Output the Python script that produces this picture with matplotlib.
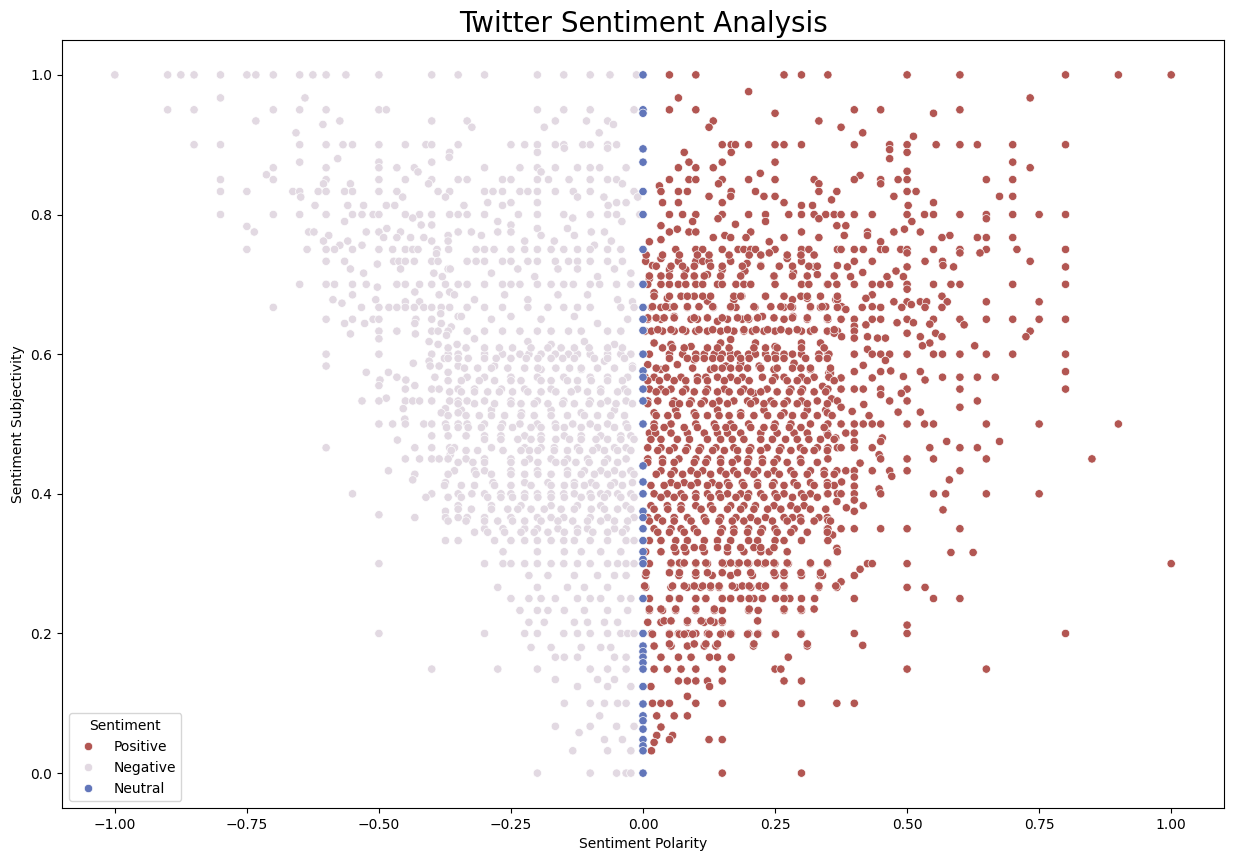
import matplotlib
matplotlib.use("Agg")
import matplotlib.pyplot as plt
import seaborn as sns
import pandas as pd

# subjectivity level -> polarity values
pos_rows = [
    (1.0, [0.05, 0.1, 0.267, 0.3, 0.35, 0.5, 0.6, 0.8, 0.9, 1.0]),
    (0.976, [0.2]),
    (0.967, [0.067, 0.733]),
    (0.95, [0.05, 0.1, 0.4, 0.45, 0.6]),
    (0.945, [0.25, 0.55]),
    (0.934, [0.133, 0.333]),
    (0.925, [0.125, 0.375]),
    (0.917, [0.416]),
    (0.912, [0.512]),
    (0.9, [0.15, 0.167, 0.175, 0.2, 0.25, 0.267, 0.3, 0.4, 0.467, 0.5, 0.555, 0.6, 0.633, 0.7, 0.8]),
    (0.893, [0.467]),
    (0.889, [0.078, 0.167, 0.5]),
    (0.88, [0.467]),
    (0.875, [0.087, 0.15, 0.25, 0.7]),
    (0.867, [0.067, 0.1, 0.133, 0.733]),
    (0.862, [0.5]),
    (0.859, [0.222]),
    (0.856, [0.411]),
    (0.85, [0.05, 0.087, 0.1, 0.15, 0.2, 0.25, 0.324, 0.4, 0.45, 0.483, 0.5, 0.65, 0.7]),
    (0.844, [0.143, 0.333, 0.45]),
    (0.841, [0.031]),
    (0.833, [0.034, 0.067, 0.084, 0.167, 0.213, 0.333, 0.367, 0.5, 0.517]),
    (0.826, [0.125, 0.166, 0.229, 0.25, 0.475, 0.675, 0.7]),
    (0.821, [0.357]),
    (0.817, [0.037, 0.067, 0.15, 0.267, 0.55]),
    (0.813, [0.3, 0.321, 0.502]),
    (0.8, [0.05, 0.075, 0.1, 0.15, 0.2, 0.232, 0.276, 0.3, 0.324, 0.346, 0.362, 0.375, 0.4, 0.434,
           0.5, 0.533, 0.55, 0.6, 0.65, 0.7, 0.75, 0.8]),
    (0.794, [0.142, 0.333, 0.65]),
    (0.79, [0.094, 0.232, 0.509]),
    (0.786, [0.175]),
    (0.784, [0.034, 0.367, 0.384]),
    (0.779, [0.065, 0.495]),
    (0.775, [0.05, 0.087, 0.1, 0.204, 0.3, 0.425, 0.475, 0.525]),
    (0.77, [0.155, 0.381, 0.425, 0.581]),
    (0.767, [0.133, 0.166, 0.195, 0.267, 0.333, 0.566, 0.633, 0.65, 0.7]),
    (0.764, [0.034]),
    (0.761, [0.012, 0.239, 0.45]),
    (0.75, [0.062, 0.1, 0.113, 0.15, 0.18, 0.191, 0.204, 0.213, 0.25, 0.3, 0.314, 0.368, 0.375, 0.4,
            0.417, 0.45, 0.459, 0.488, 0.5, 0.55, 0.6, 0.65, 0.708, 0.8]),
    (0.745, [0.239, 0.5, 0.6, 0.638]),
    (0.737, [0.034, 0.273]),
    (0.733, [0.005, 0.067, 0.1, 0.113, 0.125, 0.166, 0.3, 0.4, 0.434, 0.534, 0.567, 0.733]),
    (0.73, [0.197]),
    (0.727, [0.018, 0.223, 0.368, 0.568]),
    (0.725, [0.324, 0.387, 0.5, 0.588, 0.8]),
    (0.721, [0.05, 0.081, 0.15]),
    (0.719, [0.193, 0.479]),
    (0.717, [0.285, 0.416]),
    (0.714, [0.122, 0.33]),
    (0.711, [0.097, 0.248, 0.393, 0.462, 0.493]),
    (0.708, [0.012]),
    (0.7, [0.009, 0.034, 0.05, 0.067, 0.081, 0.1, 0.113, 0.141, 0.15, 0.176, 0.191, 0.204, 0.25, 0.3,
           0.314, 0.349, 0.35, 0.367, 0.4, 0.434, 0.45, 0.467, 0.5, 0.55, 0.583, 0.6, 0.7, 0.8]),
    (0.693, [0.5]),
    (0.688, [0.021]),
    (0.685, [0.434]),
    (0.683, [0.072, 0.097, 0.187, 0.232, 0.566]),
    (0.68, [0.046, 0.311, 0.422]),
    (0.678, [0.172, 0.283, 0.365, 0.368]),
    (0.676, [0.122]),
    (0.675, [0.475, 0.5, 0.525, 0.537, 0.576, 0.65, 0.75]),
    (0.671, [0.508]),
    (0.668, [0.346, 0.376, 0.434]),
    (0.667, [0.016, 0.034, 0.05, 0.084, 0.133, 0.166, 0.176, 0.212, 0.267, 0.283, 0.317, 0.336, 0.368,
             0.415, 0.45, 0.49, 0.534, 0.566]),
    (0.664, [0.384]),
    (0.654, [0.059, 0.226, 0.284]),
    (0.65, [0.009, 0.034, 0.091, 0.103, 0.16, 0.188, 0.2, 0.267, 0.311, 0.349, 0.35, 0.375, 0.4, 0.434,
            0.45, 0.5, 0.55, 0.6, 0.65, 0.7, 0.75, 0.8]),
    (0.647, [0.141]),
    (0.645, [0.481, 0.512]),
    (0.643, [0.543]),
    (0.642, [0.422, 0.608]),
    (0.64, [0.4]),
    (0.633, [0.004, 0.016, 0.037, 0.059, 0.081, 0.1, 0.122, 0.147, 0.172, 0.191, 0.207, 0.229, 0.25,
             0.276, 0.3, 0.317, 0.349, 0.368, 0.4, 0.733]),
    (0.63, [0.362, 0.5, 0.554]),
    (0.625, [0.376, 0.425, 0.525, 0.566, 0.725]),
    (0.623, [0.4, 0.444, 0.459]),
    (0.621, [0.166]),
    (0.616, [0.021, 0.147, 0.213, 0.3, 0.336, 0.543]),
    (0.614, [0.053]),
    (0.612, [0.529, 0.628]),
    (0.611, [0.091, 0.25]),
    (0.607, [0.425]),
    (0.6, [0.012, 0.05, 0.075, 0.1, 0.116, 0.135, 0.15, 0.166, 0.179, 0.2, 0.213, 0.232, 0.25, 0.267,
           0.283, 0.3, 0.333, 0.35, 0.352, 0.4, 0.434, 0.45, 0.467, 0.5, 0.55, 0.567, 0.6, 0.65, 0.7, 0.8]),
    (0.592, [0.097]),
    (0.591, [0.459]),
    (0.587, [0.185, 0.286]),
    (0.585, [0.009, 0.065]),
    (0.584, [0.417]),
    (0.583, [0.157, 0.22]),
    (0.578, [0.034, 0.128, 0.248, 0.317]),
    (0.576, [0.469]),
    (0.575, [0.4, 0.45, 0.525, 0.8]),
    (0.573, [0.352, 0.355]),
    (0.568, [0.493]),
    (0.567, [0.004, 0.021, 0.046, 0.072, 0.103, 0.119, 0.141, 0.166, 0.188, 0.226, 0.25, 0.267, 0.3,
             0.324, 0.352, 0.567, 0.6, 0.633, 0.667]),
    (0.566, [0.375, 0.434]),
    (0.563, [0.534]),
    (0.554, [0.34]),
    (0.55, [0.012, 0.034, 0.053, 0.081, 0.122, 0.154, 0.191, 0.235, 0.28, 0.302, 0.35, 0.375, 0.4,
            0.417, 0.45, 0.5, 0.6, 0.8]),
    (0.544, [0.21, 0.489]),
    (0.542, [0.45]),
    (0.536, [0.357]),
    (0.533, [0.009, 0.028, 0.059, 0.091, 0.116, 0.144, 0.172, 0.198, 0.213, 0.242, 0.273, 0.3, 0.33,
             0.368, 0.467, 0.5, 0.633]),
    (0.528, [0.418]),
    (0.524, [0.375, 0.6]),
    (0.52, [0.062, 0.141, 0.229, 0.311, 0.346]),
    (0.518, [0.396]),
    (0.517, [0.483, 0.525]),
    (0.516, [0.021, 0.097, 0.185, 0.267, 0.349]),
    (0.512, [0.428]),
    (0.5, [0.021, 0.053, 0.1, 0.135, 0.166, 0.2, 0.25, 0.28, 0.317, 0.35, 0.375, 0.4, 0.417, 0.434,
           0.45, 0.5, 0.533, 0.55, 0.65, 0.75, 0.9]),
    (0.487, [0.012, 0.024, 0.053, 0.084, 0.116, 0.141, 0.16, 0.185, 0.223, 0.254, 0.286, 0.311, 0.349,
             0.384, 0.4]),
    (0.484, [0.35]),
    (0.48, [0.365, 0.453]),
    (0.475, [0.4, 0.45, 0.575, 0.675]),
    (0.466, [0.009, 0.034, 0.059, 0.084, 0.109, 0.138, 0.172, 0.204, 0.235, 0.261, 0.298, 0.33, 0.35,
             0.368, 0.375, 0.4, 0.434, 0.543, 0.6, 0.633]),
    (0.456, [0.447]),
    (0.45, [0.009, 0.037, 0.068, 0.1, 0.122, 0.147, 0.179, 0.2, 0.226, 0.254, 0.298, 0.35, 0.45, 0.5,
            0.55, 0.65, 0.85]),
    (0.444, [0.411]),
    (0.433, [0.034, 0.059, 0.091, 0.113, 0.147, 0.172, 0.198, 0.217, 0.248, 0.28, 0.317, 0.343, 0.367,
             0.384, 0.4, 0.434, 0.467, 0.5, 0.6]),
    (0.425, [0.471]),
    (0.424, [0.4]),
    (0.42, [0.58]),
    (0.417, [0.376]),
    (0.416, [0.053, 0.078, 0.103, 0.131, 0.16, 0.188, 0.217, 0.248, 0.286, 0.317, 0.349]),
    (0.412, [0.362]),
    (0.411, [0.4]),
    (0.407, [0.447]),
    (0.4, [0.021, 0.046, 0.072, 0.1, 0.122, 0.144, 0.16, 0.185, 0.2, 0.223, 0.25, 0.267, 0.3, 0.317,
           0.349, 0.35, 0.368, 0.375, 0.4, 0.45, 0.55, 0.573, 0.65, 0.75]),
    (0.391, [0.4]),
    (0.389, [0.367]),
    (0.383, [0.015, 0.046, 0.072, 0.1, 0.128, 0.166, 0.191, 0.213, 0.248, 0.28, 0.305, 0.417]),
    (0.38, [0.385]),
    (0.377, [0.568]),
    (0.375, [0.4]),
    (0.366, [0.009, 0.028, 0.059, 0.084, 0.116, 0.147, 0.176, 0.204, 0.232, 0.267, 0.283, 0.298, 0.333,
             0.349]),
    (0.362, [0.35]),
    (0.35, [0.021, 0.053, 0.072, 0.097, 0.15, 0.172, 0.2, 0.226, 0.25, 0.286, 0.349, 0.35, 0.375, 0.4,
            0.45, 0.5, 0.6]),
    (0.341, [0.359]),
    (0.333, [0.012, 0.034, 0.062, 0.084, 0.116, 0.141, 0.166, 0.2, 0.217, 0.25, 0.267, 0.3, 0.35]),
    (0.322, [0.367]),
    (0.317, [0.005, 0.034, 0.062, 0.081, 0.116, 0.16, 0.191, 0.223, 0.239, 0.273, 0.368]),
    (0.316, [0.583, 0.625]),
    (0.3, [0.012, 0.053, 0.072, 0.1, 0.122, 0.154, 0.179, 0.2, 0.229, 0.25, 0.275, 0.317, 0.35, 0.425,
           0.434, 0.5, 1.0]),
    (0.292, [0.411]),
    (0.283, [0.005, 0.068, 0.1, 0.131, 0.166, 0.207, 0.25, 0.267, 0.3, 0.336, 0.34, 0.4]),
    (0.274, [0.375]),
    (0.266, [0.005, 0.053, 0.084, 0.109, 0.128, 0.144, 0.176, 0.204, 0.226, 0.267, 0.333, 0.367, 0.5,
             0.534]),
    (0.25, [0.012, 0.05, 0.068, 0.1, 0.119, 0.15, 0.166, 0.185, 0.21, 0.226, 0.278, 0.3, 0.325, 0.4,
            0.55, 0.6]),
    (0.233, [0.012, 0.037, 0.062, 0.1, 0.135, 0.15, 0.2, 0.218, 0.267, 0.3]),
    (0.216, [0.009, 0.034, 0.084, 0.116, 0.135, 0.15]),
    (0.212, [0.5]),
    (0.2, [0.016, 0.05, 0.067, 0.084, 0.1, 0.122, 0.15, 0.167, 0.2, 0.218, 0.25, 0.3, 0.4, 0.5, 0.8]),
    (0.183, [0.416]),
    (0.182, [0.021, 0.053, 0.084, 0.116, 0.138, 0.209, 0.311]),
    (0.166, [0.034, 0.067, 0.091, 0.126, 0.141, 0.167, 0.275]),
    (0.149, [0.021, 0.046, 0.072, 0.1, 0.15, 0.25, 0.261, 0.5, 0.65]),
    (0.132, [0.067, 0.084, 0.1, 0.122, 0.15, 0.267, 0.3]),
    (0.124, [0.015, 0.126]),
    (0.11, [0.084]),
    (0.1, [0.018, 0.034, 0.05, 0.1, 0.15, 0.3, 0.367, 0.4]),
    (0.082, [0.026, 0.059, 0.084]),
    (0.066, [0.034]),
    (0.054, [0.026, 0.056]),
    (0.048, [0.05, 0.125, 0.15]),
    (0.044, [0.021]),
    (0.032, [0.016]),
    (0.0, [0.15, 0.3]),
]

# extra points in the crowded middle of the positive cloud
pos_core_rows = [
    (0.742, [0.006, 0.037, 0.069, 0.103, 0.125, 0.163, 0.201, 0.223, 0.273, 0.299, 0.324]),
    (0.726, [0.025, 0.053, 0.075, 0.097, 0.128, 0.15, 0.188, 0.223, 0.258, 0.283, 0.314, 0.33]),
    (0.712, [0.012, 0.034, 0.05, 0.078, 0.097, 0.116, 0.147, 0.185, 0.248, 0.283, 0.311, 0.362]),
    (0.683, [0.021, 0.05, 0.084, 0.113, 0.128, 0.172, 0.185, 0.232, 0.267, 0.299, 0.311, 0.336, 0.368]),
    (0.668, [0.018, 0.043, 0.059, 0.084, 0.106, 0.132, 0.166, 0.21, 0.242, 0.261, 0.28, 0.317, 0.339]),
    (0.652, [0.009, 0.025, 0.04, 0.059, 0.097, 0.122, 0.15, 0.179, 0.198, 0.217, 0.248, 0.283, 0.311,
             0.349]),
    (0.635, [0.028, 0.053, 0.075, 0.106, 0.132, 0.16, 0.191, 0.214, 0.236, 0.261, 0.292, 0.324, 0.362]),
    (0.609, [0.037, 0.056, 0.078, 0.122, 0.141, 0.163, 0.21, 0.232, 0.254, 0.3, 0.343]),
    (0.594, [0.05, 0.084, 0.1, 0.116, 0.132, 0.147, 0.166, 0.185, 0.201, 0.236, 0.251, 0.267, 0.308,
             0.333, 0.349]),
    (0.58, [0.025, 0.043, 0.094, 0.135, 0.15, 0.166, 0.182, 0.198, 0.223, 0.254, 0.283, 0.299, 0.317,
            0.355]),
    (0.562, [0.009, 0.031, 0.059, 0.081, 0.103, 0.122, 0.154, 0.179, 0.201, 0.245, 0.273, 0.292, 0.311,
             0.362]),
    (0.546, [0.025, 0.043, 0.075, 0.097, 0.119, 0.141, 0.163, 0.185, 0.204, 0.223, 0.254, 0.277, 0.299,
             0.324, 0.346]),
    (0.529, [0.009, 0.056, 0.069, 0.088, 0.11, 0.132, 0.16, 0.204, 0.229, 0.248, 0.267, 0.292, 0.311,
             0.349]),
    (0.512, [0.025, 0.047, 0.065, 0.1, 0.122, 0.144, 0.163, 0.185, 0.21, 0.236, 0.261, 0.283, 0.305,
             0.33, 0.358]),
    (0.495, [0.021, 0.04, 0.078, 0.103, 0.138, 0.157, 0.172, 0.204, 0.229, 0.248, 0.277, 0.299, 0.343]),
    (0.478, [0.015, 0.034, 0.065, 0.088, 0.122, 0.147, 0.169, 0.191, 0.223, 0.245, 0.27, 0.292, 0.314,
             0.336, 0.362]),
    (0.462, [0.028, 0.05, 0.081, 0.106, 0.132, 0.154, 0.179, 0.201, 0.223, 0.258, 0.28, 0.305, 0.324,
             0.349]),
    (0.445, [0.009, 0.037, 0.059, 0.097, 0.119, 0.147, 0.169, 0.198, 0.226, 0.248, 0.273, 0.299, 0.33]),
    (0.428, [0.025, 0.053, 0.075, 0.103, 0.128, 0.157, 0.179, 0.21, 0.236, 0.258, 0.286, 0.311, 0.343,
             0.362]),
    (0.412, [0.015, 0.04, 0.065, 0.091, 0.122, 0.144, 0.163, 0.191, 0.217, 0.245, 0.267, 0.292, 0.324,
             0.349]),
    (0.395, [0.034, 0.059, 0.078, 0.1, 0.128, 0.147, 0.176, 0.198, 0.229, 0.254, 0.283, 0.305, 0.33]),
    (0.378, [0.021, 0.047, 0.072, 0.11, 0.132, 0.16, 0.185, 0.21, 0.236, 0.261, 0.292, 0.317, 0.346]),
    (0.361, [0.012, 0.037, 0.059, 0.091, 0.119, 0.144, 0.169, 0.191, 0.217, 0.245, 0.273, 0.299, 0.324,
             0.355]),
    (0.345, [0.028, 0.05, 0.078, 0.103, 0.147, 0.172, 0.198, 0.223, 0.254, 0.28, 0.311, 0.349]),
    (0.323, [0.059, 0.078, 0.097, 0.113, 0.141, 0.16, 0.185, 0.21, 0.223, 0.248]),
    (0.301, [0.053, 0.069, 0.078, 0.1, 0.119, 0.15, 0.166, 0.182, 0.198, 0.217, 0.232, 0.248, 0.273,
             0.317, 0.349]),
    (0.287, [0.006, 0.05, 0.069, 0.1, 0.122, 0.15, 0.179, 0.204, 0.248, 0.267, 0.299, 0.336]),
    (0.268, [0.003, 0.056, 0.078, 0.097, 0.113, 0.128, 0.144, 0.169, 0.188, 0.201, 0.22, 0.232, 0.267,
             0.333, 0.365]),
    (0.25, [0.05, 0.069, 0.1, 0.119, 0.15, 0.166, 0.185, 0.201, 0.226, 0.251, 0.267]),
    (0.235, [0.012, 0.034, 0.062, 0.1, 0.135, 0.201, 0.267, 0.299, 0.324]),
    (0.218, [0.04, 0.053, 0.084, 0.11, 0.128, 0.15, 0.217]),
    (0.199, [0.018, 0.05, 0.069, 0.078, 0.094, 0.125, 0.147, 0.166, 0.198, 0.217, 0.251, 0.299]),
    (0.185, [0.05, 0.097, 0.119, 0.141, 0.21, 0.311]),
]

neg_rows = [
    (1.0, [-1.0, -0.9, -0.875, -0.85, -0.8, -0.75, -0.733, -0.7, -0.65, -0.625, -0.6, -0.5625, -0.5,
           -0.4, -0.35, -0.3, -0.2, -0.15, -0.1, -0.0625, -0.0125]),
    (0.967, [-0.8, -0.64]),
    (0.95, [-0.9, -0.85, -0.7, -0.65, -0.6, -0.5, -0.486, -0.2, -0.15, -0.1, -0.017]),
    (0.934, [-0.733, -0.574, -0.4, -0.333, -0.166, -0.107, -0.067]),
    (0.929, [-0.606, -0.056]),
    (0.925, [-0.324, -0.187]),
    (0.917, [-0.657, -0.083]),
    (0.9, [-0.85, -0.8, -0.65, -0.6, -0.568, -0.55, -0.5, -0.45, -0.411, -0.4, -0.35, -0.25, -0.224,
           -0.2, -0.166, -0.15, -0.114, -0.1, -0.067, -0.05]),
    (0.895, [-0.149, -0.067]),
    (0.889, [-0.366, -0.2]),
    (0.882, [-0.367]),
    (0.88, [-0.578]),
    (0.875, [-0.65, -0.5, -0.4]),
    (0.867, [-0.7, -0.6, -0.5, -0.466, -0.433, -0.3, -0.233, -0.2, -0.166, -0.124, -0.1, -0.082, -0.032]),
    (0.861, [-0.426, -0.193]),
    (0.857, [-0.713]),
    (0.85, [-0.8, -0.7, -0.6, -0.5, -0.45, -0.4, -0.35, -0.333, -0.266, -0.25, -0.2, -0.179, -0.14,
            -0.1, -0.067, -0.05]),
    (0.844, [-0.605, -0.554, -0.406, -0.039]),
    (0.833, [-0.8, -0.75, -0.663, -0.65, -0.615, -0.6, -0.565, -0.55, -0.5, -0.466, -0.388, -0.366,
             -0.3, -0.284, -0.266, -0.233, -0.218, -0.2, -0.166, -0.132, -0.1, -0.017]),
    (0.825, [-0.648, -0.455, -0.374, -0.124, -0.074, -0.01]),
    (0.817, [-0.294, -0.25, -0.2, -0.05, -0.032]),
    (0.813, [-0.621, -0.559, -0.529, -0.486, -0.47, -0.339, -0.266, -0.066]),
    (0.8, [-0.8, -0.7, -0.65, -0.6, -0.55, -0.532, -0.511, -0.5, -0.45, -0.423, -0.4, -0.366, -0.35,
           -0.333, -0.3, -0.236, -0.2, -0.15, -0.1, -0.067, -0.05, -0.006]),
    (0.795, [-0.436, -0.133]),
    (0.79, [-0.565, -0.275, -0.04]),
    (0.785, [-0.42, -0.4, -0.25]),
    (0.783, [-0.75]),
    (0.78, [-0.485, -0.2, -0.143]),
    (0.775, [-0.736, -0.633, -0.623, -0.524, -0.5, -0.459, -0.35, -0.325, -0.275, -0.25, -0.098, -0.073]),
    (0.77, [-0.595, -0.369, -0.306, -0.193, -0.13]),
    (0.767, [-0.491, -0.466, -0.44, -0.415]),
    (0.762, [-0.605, -0.559, -0.4, -0.369, -0.224, -0.168, -0.06]),
    (0.756, [-0.574, -0.532, -0.092]),
    (0.75, [-0.75, -0.636, -0.6, -0.584, -0.55, -0.5, -0.474, -0.45, -0.436, -0.426, -0.39, -0.368,
            -0.316, -0.3, -0.282, -0.25, -0.224, -0.2, -0.174, -0.15, -0.124, -0.1, -0.067, -0.042]),
    (0.744, [-0.391]),
    (0.733, [-0.6, -0.565, -0.472, -0.462, -0.45, -0.433, -0.4, -0.388, -0.333, -0.316, -0.3, -0.266,
             -0.25, -0.218, -0.2, -0.166, -0.141, -0.124, -0.1, -0.067, -0.039]),
    (0.729, [-0.503]),
    (0.722, [-0.554, -0.459, -0.369, -0.365, -0.237, -0.161, -0.124, -0.054]),
    (0.716, [-0.529, -0.396, -0.287, -0.023]),
    (0.711, [-0.38, -0.205, -0.086]),
    (0.7, [-0.65, -0.6, -0.584, -0.55, -0.524, -0.466, -0.45, -0.423, -0.4, -0.374, -0.35, -0.333, -0.3,
           -0.266, -0.25, -0.233, -0.2, -0.174, -0.15, -0.132, -0.1, -0.082, -0.05, -0.023]),
    (0.696, [-0.503]),
    (0.689, [-0.432, -0.366]),
    (0.685, [-0.55, -0.386, -0.357, -0.262, -0.161, -0.105]),
    (0.678, [-0.587, -0.506, -0.319, -0.218, -0.048]),
    (0.675, [-0.45, -0.423, -0.02]),
    (0.673, [-0.57]),
    (0.667, [-0.7, -0.533, -0.5, -0.481, -0.466, -0.45, -0.433, -0.415, -0.4, -0.382, -0.366, -0.333,
             -0.3, -0.266, -0.218, -0.18, -0.15, -0.124, -0.1, -0.042, -0.017]),
    (0.658, [-0.383]),
    (0.654, [-0.35, -0.344, -0.25, -0.13]),
    (0.65, [-0.6, -0.55, -0.511, -0.5, -0.43, -0.4, -0.287, -0.193, -0.029]),
    (0.644, [-0.565, -0.527, -0.432, -0.382, -0.086]),
    (0.639, [-0.363]),
    (0.633, [-0.5, -0.466, -0.4, -0.388, -0.369, -0.333, -0.3, -0.266, -0.233, -0.2, -0.174, -0.141,
             -0.117, -0.067, -0.042]),
    (0.629, [-0.554, -0.431]),
    (0.627, [-0.372]),
    (0.622, [-0.5, -0.319]),
    (0.618, [-0.405, -0.218, -0.111]),
    (0.614, [-0.388, -0.352, -0.174, -0.054]),
    (0.6, [-0.6, -0.5, -0.4, -0.369, -0.35, -0.3, -0.266, -0.233, -0.216, -0.193, -0.166, -0.141, -0.124,
           -0.1, -0.067, -0.042, -0.023]),
    (0.594, [-0.376]),
    (0.59, [-0.405, -0.073]),
    (0.587, [-0.435]),
    (0.583, [-0.6, -0.403, -0.386, -0.35, -0.281, -0.02]),
    (0.578, [-0.193, -0.117]),
    (0.574, [-0.524, -0.482, -0.369]),
    (0.567, [-0.466, -0.394, -0.333, -0.3, -0.25, -0.2, -0.15, -0.1, -0.067, -0.029]),
    (0.563, [-0.498, -0.449]),
    (0.555, [-0.5, -0.432]),
    (0.55, [-0.45, -0.4, -0.386, -0.35, -0.319, -0.268, -0.224, -0.174, -0.124, -0.08, -0.035]),
    (0.537, [-0.486]),
    (0.533, [-0.532, -0.5, -0.45, -0.436, -0.423, -0.4, -0.366, -0.35, -0.333, -0.3, -0.25, -0.2,
             -0.15, -0.1, -0.067, -0.032]),
    (0.522, [-0.454, -0.374]),
    (0.52, [-0.344, -0.287, -0.174, -0.054]),
    (0.516, [-0.382, -0.35, -0.23, -0.117]),
    (0.507, [-0.451]),
    (0.5, [-0.5, -0.474, -0.45, -0.415, -0.4, -0.374, -0.35, -0.333, -0.3, -0.266, -0.233, -0.2, -0.166,
           -0.133, -0.1, -0.067, -0.032]),
    (0.483, [-0.4, -0.369, -0.335, -0.3, -0.269, -0.224, -0.193, -0.149, -0.117, -0.08, -0.042, -0.023]),
    (0.477, [-0.465]),
    (0.466, [-0.6, -0.432, -0.4, -0.366, -0.357, -0.287, -0.224, -0.193, -0.168, -0.124, -0.086,
             -0.054, -0.032]),
    (0.456, [-0.365]),
    (0.45, [-0.45, -0.423, -0.4, -0.386, -0.369, -0.335, -0.3, -0.25, -0.215, -0.174, -0.143, -0.105,
            -0.067, -0.032]),
    (0.433, [-0.482, -0.357, -0.319, -0.3, -0.25, -0.2, -0.143, -0.111, -0.08, -0.054, -0.023]),
    (0.428, [-0.432]),
    (0.42, [-0.436]),
    (0.416, [-0.374, -0.284, -0.224, -0.18, -0.13, -0.098, -0.054, -0.02]),
    (0.4, [-0.55, -0.4, -0.35, -0.324, -0.3, -0.269, -0.25, -0.224, -0.2, -0.174, -0.15, -0.13, -0.1,
           -0.08, -0.067, -0.048, -0.023]),
    (0.395, [-0.411]),
    (0.383, [-0.35, -0.287, -0.231, -0.174, -0.124, -0.08, -0.032]),
    (0.375, [-0.374]),
    (0.37, [-0.5]),
    (0.366, [-0.432, -0.374, -0.35, -0.333, -0.3, -0.25, -0.2, -0.174, -0.15, -0.1, -0.067, -0.017]),
    (0.35, [-0.3, -0.265, -0.224, -0.2, -0.161, -0.124, -0.105, -0.054, -0.032]),
    (0.333, [-0.374, -0.35, -0.281, -0.25, -0.224, -0.2, -0.174, -0.15, -0.13, -0.1, -0.067, -0.032,
             -0.017]),
    (0.317, [-0.265, -0.2, -0.149, -0.117, -0.08, -0.042]),
    (0.3, [-0.5, -0.3, -0.265, -0.25, -0.224, -0.2, -0.174, -0.15, -0.124, -0.1, -0.067, -0.048, -0.032,
           -0.017]),
    (0.283, [-0.216, -0.18, -0.13, -0.086, -0.054, -0.032]),
    (0.266, [-0.275, -0.2, -0.143, -0.111, -0.067]),
    (0.25, [-0.25, -0.216, -0.193, -0.166, -0.124, -0.1, -0.08, -0.042, -0.023]),
    (0.233, [-0.233, -0.2, -0.18, -0.149, -0.111, -0.067, -0.029]),
    (0.216, [-0.216, -0.187, -0.13, -0.105, -0.073, -0.048]),
    (0.2, [-0.5, -0.3, -0.224, -0.2, -0.15, -0.124, -0.1, -0.067, -0.042, -0.029, -0.017]),
    (0.18, [-0.212, -0.174, -0.117, -0.08, -0.061]),
    (0.166, [-0.166, -0.149, -0.124, -0.054, -0.032]),
    (0.149, [-0.4, -0.275, -0.2, -0.1, -0.067, -0.032]),
    (0.134, [-0.166, -0.086, -0.054]),
    (0.124, [-0.124, -0.067, -0.023]),
    (0.1, [-0.149, -0.1, -0.073, -0.048, -0.032]),
    (0.082, [-0.082]),
    (0.067, [-0.166, -0.1, -0.05, -0.017]),
    (0.058, [-0.121]),
    (0.048, [-0.073, -0.039]),
    (0.032, [-0.133, -0.067, -0.023]),
    (0.0, [-0.2, -0.1, -0.05, -0.032, -0.023]),
]

# extra points in the crowded middle of the negative cloud
neg_core_rows = [
    (0.609, [-0.369, -0.335, -0.3, -0.272, -0.247, -0.212, -0.18, -0.155, -0.13, -0.102, -0.067, -0.039]),
    (0.594, [-0.369, -0.35, -0.331, -0.3, -0.278, -0.25, -0.221, -0.199, -0.174, -0.152, -0.13, -0.092,
             -0.067, -0.035]),
    (0.58, [-0.338, -0.313, -0.287, -0.256, -0.224, -0.199, -0.165, -0.139, -0.117, -0.086, -0.054, -0.02]),
    (0.562, [-0.369, -0.344, -0.31, -0.281, -0.25, -0.231, -0.193, -0.174, -0.143, -0.124, -0.098, -0.067,
             -0.039]),
    (0.546, [-0.366, -0.344, -0.319, -0.294, -0.272, -0.247, -0.218, -0.193, -0.165, -0.136, -0.105,
             -0.08, -0.048, -0.029]),
    (0.529, [-0.35, -0.319, -0.281, -0.25, -0.231, -0.206, -0.18, -0.152, -0.13, -0.102, -0.08, -0.051,
             -0.02]),
    (0.512, [-0.369, -0.335, -0.31, -0.287, -0.262, -0.231, -0.206, -0.174, -0.143, -0.111, -0.086,
             -0.061, -0.035]),
    (0.495, [-0.372, -0.35, -0.331, -0.306, -0.269, -0.247, -0.212, -0.193, -0.165, -0.149, -0.117,
             -0.086, -0.054, -0.029]),
    (0.478, [-0.3, -0.269, -0.237, -0.212, -0.193, -0.165, -0.139, -0.117, -0.089, -0.067, -0.042, -0.017]),
    (0.462, [-0.363, -0.335, -0.313, -0.265, -0.231, -0.215, -0.199, -0.168, -0.143, -0.12, -0.095,
             -0.073, -0.048, -0.023]),
    (0.445, [-0.35, -0.322, -0.3, -0.25, -0.224, -0.199, -0.165, -0.149, -0.127, -0.102, -0.073, -0.048]),
    (0.428, [-0.369, -0.316, -0.287, -0.25, -0.224, -0.199, -0.174, -0.143, -0.117, -0.092, -0.067,
             -0.039, -0.017]),
    (0.412, [-0.376, -0.344, -0.319, -0.281, -0.25, -0.212, -0.174, -0.149, -0.13, -0.111, -0.089,
             -0.061, -0.039]),
    (0.395, [-0.369, -0.344, -0.294, -0.269, -0.247, -0.224, -0.199, -0.174, -0.149, -0.117, -0.098,
             -0.073, -0.042, -0.017]),
    (0.378, [-0.35, -0.325, -0.287, -0.256, -0.237, -0.212, -0.187, -0.155, -0.13, -0.098, -0.073,
             -0.048, -0.023]),
    (0.361, [-0.369, -0.335, -0.3, -0.275, -0.247, -0.224, -0.193, -0.161, -0.133, -0.105, -0.08,
             -0.054, -0.029]),
    (0.345, [-0.319, -0.294, -0.262, -0.231, -0.206, -0.18, -0.149, -0.124, -0.095, -0.067, -0.039]),
]

# neutral tweets all sit at polarity 0
neu_subj = [1.0, 0.95, 0.945, 0.894, 0.875, 0.833, 0.8, 0.75, 0.7, 0.667, 0.65, 0.634, 0.6, 0.576,
            0.567, 0.55, 0.533, 0.5, 0.44, 0.417, 0.4, 0.375, 0.366, 0.35, 0.333, 0.317, 0.306, 0.3,
            0.25, 0.2, 0.182, 0.174, 0.166, 0.158, 0.149, 0.124, 0.099, 0.082, 0.075, 0.063, 0.048,
            0.039, 0.032, 0.0]

labels = ["Positive", "Negative", "Neutral"]

recs = []
for subj, pols in pos_rows + pos_core_rows:
    for p in pols:
        recs.append((p, subj, "Positive"))
for subj, pols in neg_rows + neg_core_rows:
    for p in pols:
        recs.append((p, subj, "Negative"))
for subj in neu_subj:
    recs.append((0.0, subj, "Neutral"))
df = pd.DataFrame(recs, columns=["Polarity", "Subjectivity", "Sentiment"])

fig, ax = plt.subplots(figsize=(12.33, 8.63), dpi=100)
fig.subplots_adjust(left=0.0503, right=0.9927, top=0.9537, bottom=0.0637)

sns.scatterplot(data=df, x="Polarity", y="Subjectivity", hue="Sentiment", hue_order=labels,
                palette="twilight_shifted_r", ax=ax)

ax.set_title("Twitter Sentiment Analysis", fontsize=20)
ax.set_xlabel("Sentiment Polarity")
ax.set_ylabel("Sentiment Subjectivity")
ax.legend(title="Sentiment", loc="lower left")

fig.savefig("out.png", dpi=100)
